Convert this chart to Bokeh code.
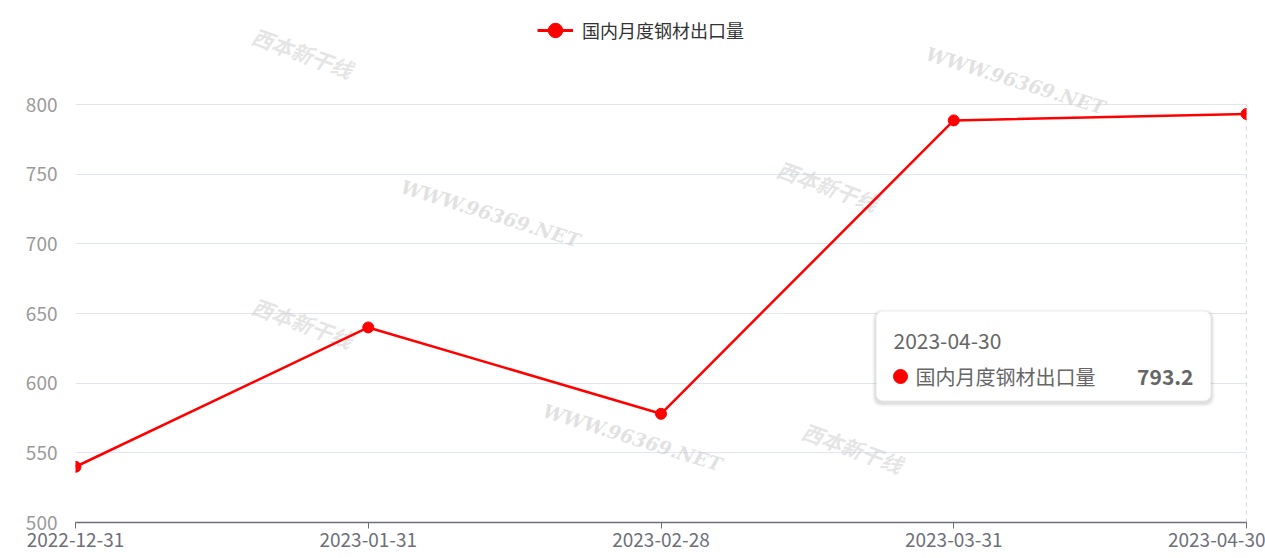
from bokeh.plotting import figure
from bokeh.models import (Range1d, FixedTicker, Legend, LegendItem, BoxAnnotation,
                          Label, ColumnDataSource)
from bokeh.embed import file_html
from bokeh.resources import INLINE

categories = ["2022-12-31", "2023-01-31", "2023-02-28", "2023-03-31", "2023-04-30"]
values = [540, 640, 578, 788.6, 793.2]
series_name = "国内月度钢材出口量"
y_ticks = [500, 550, 600, 650, 700, 750, 800]
watermark_url = "WWW.96369.NET"
watermark_logo = "西本新干线"

FONT = "Noto Sans CJK SC"
RED = "#ff0000"

W, H = 1265, 558
LEFT, RIGHT, TOP, BOTTOM = 75, 1246, 104, 522
Y0, Y1 = 500, 800

XS = (RIGHT - LEFT) / (len(categories) - 1)
YS = (BOTTOM - TOP) / (Y1 - Y0)
# frame extends to the top of the canvas so the legend/watermarks are not clipped
y_top = Y1 + TOP / YS

xs = list(range(len(categories)))
src = ColumnDataSource(dict(x=xs, y=values))

p = figure(width=W, height=H, output_backend="svg", toolbar_location=None,
           x_range=Range1d(0, len(categories) - 1), y_range=Range1d(Y0, y_top),
           min_border_left=LEFT, min_border_right=W - RIGHT,
           min_border_top=0, min_border_bottom=H - BOTTOM)
p.outline_line_color = None
p.background_fill_color = "white"

def dx(px):
    return (px - LEFT) / XS
def dy(py):
    return Y1 - (py - TOP) / YS

# watermarks
for cx, cy in [(490, 213), (1015, 80), (632, 437)]:
    p.add_layout(Label(x=dx(cx), y=dy(cy), text=watermark_url, text_font="DejaVu Serif",
                       text_font_style="bold italic", text_font_size="19px",
                       text_color="#c4c4c4", text_alpha=0.5, angle=-0.3,
                       text_align="center", text_baseline="middle", level="underlay"))
for cx, cy in [(302, 52), (827, 185), (302, 322), (852, 447)]:
    p.add_layout(Label(x=dx(cx), y=dy(cy), text=watermark_logo, text_font=FONT,
                       text_font_style="bold italic", text_font_size="21px",
                       text_color="#c4c4c4", text_alpha=0.45, angle=-0.35,
                       text_align="center", text_baseline="middle", level="underlay"))

# axes
p.xaxis.ticker = FixedTicker(ticks=xs)
p.xaxis.major_label_overrides = {i: c for i, c in enumerate(categories)}
p.xaxis.axis_line_color = "#6E7079"
p.xaxis.axis_line_width = 1.3
p.xaxis.major_tick_line_color = "#6E7079"
p.xaxis.major_tick_out = 6
p.xaxis.major_tick_in = 0
p.xaxis.minor_tick_line_color = None
p.xaxis.major_label_text_font = FONT
p.xaxis.major_label_text_font_size = "19px"
p.xaxis.major_label_text_color = "#6E7079"
p.xaxis.major_label_standoff = 4

p.yaxis.ticker = FixedTicker(ticks=y_ticks)
p.yaxis.axis_line_color = None
p.yaxis.major_tick_line_color = None
p.yaxis.minor_tick_line_color = None
p.yaxis.major_label_text_font = FONT
p.yaxis.major_label_text_font_size = "19px"
p.yaxis.major_label_text_color = "#9a9a9a"
p.yaxis.major_label_standoff = 12

p.xgrid.grid_line_color = None
p.ygrid.grid_line_color = "#E0E6F1"
p.ygrid.grid_line_width = 1.2

# axis pointer (from top of value axis to bottom)
p.segment(x0=[xs[-1]], y0=[Y0], x1=[xs[-1]], y1=[Y1], line_color="#A9B2C6",
          line_dash="4 4", line_width=1.2)

line = p.line("x", "y", source=src, line_color=RED, line_width=2.5)
pts = p.scatter("x", "y", source=src, size=11, fill_color=RED, line_color=RED)

# legend-only proxy glyphs (NaN data, not drawn in the plot) for the larger legend symbol
nan = float("nan")
leg_src = ColumnDataSource(dict(x=[nan], y=[nan]))
leg_line = p.line("x", "y", source=leg_src, line_color=RED, line_width=3)
leg_pt = p.scatter("x", "y", source=leg_src, size=14, fill_color=RED, line_color=RED)

legend = Legend(items=[LegendItem(label=series_name, renderers=[leg_line, leg_pt])],
                location=(537 - LEFT, BOTTOM - 48), orientation="horizontal",
                label_text_font=FONT, label_text_font_size="18px", label_text_color="#333333",
                glyph_width=36, glyph_height=36, label_standoff=9,
                padding=0, margin=0, border_line_color=None, background_fill_alpha=0,
                label_height=20)
p.add_layout(legend, "center")

# tooltip (shadow + box)
L, R, T, B = 876, 1210, 311, 400
for i, a in enumerate([0.05, 0.04, 0.03]):
    g = i + 2
    p.add_layout(BoxAnnotation(left=dx(L - g), right=dx(R + g), top=dy(T - g + 2), bottom=dy(B + g + 2),
                               fill_color="#000000", fill_alpha=a, line_color=None,
                               border_radius=8, level="annotation"))
p.add_layout(BoxAnnotation(left=dx(L), right=dx(R), top=dy(T), bottom=dy(B),
                           fill_color="white", fill_alpha=1.0, line_color="#ffffff",
                           line_width=1, border_radius=6, level="annotation"))
p.add_layout(Label(x=dx(893), y=dy(340), text=categories[-1],
                   text_font=FONT, text_font_size="21px", text_color="#666666",
                   text_baseline="middle", level="overlay"))
p.add_layout(Label(x=dx(915), y=dy(376), text=series_name,
                   text_font=FONT, text_font_size="20px", text_color="#666666",
                   text_baseline="middle", level="overlay"))
p.add_layout(Label(x=dx(1193), y=dy(376), text=str(values[-1]),
                   text_font=FONT, text_font_size="21px", text_color="#666666",
                   text_font_style="bold", text_align="right",
                   text_baseline="middle", level="overlay"))
tip_dot = ColumnDataSource(dict(x=[dx(900)], y=[dy(376)]))
p.scatter("x", "y", source=tip_dot, size=14, fill_color=RED, line_color=RED, level="overlay")

open("out.html", "w").write(file_html(p, INLINE))
